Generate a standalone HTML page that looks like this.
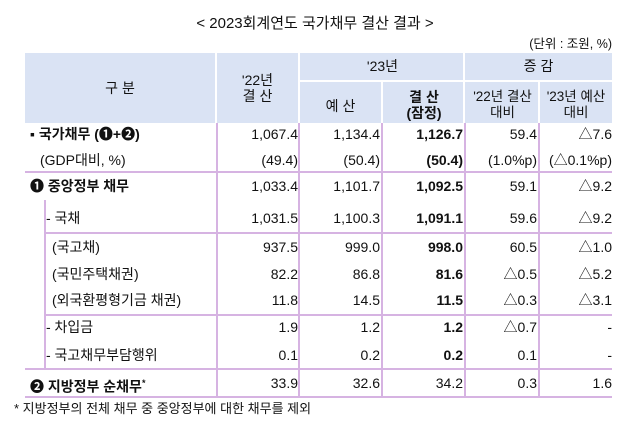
<!DOCTYPE html>
<html><head><meta charset="utf-8"><style>
body{margin:0;width:630px;height:425px;background:#fff;font-family:"Liberation Sans","Noto Sans CJK KR",sans-serif;color:#111;position:relative;overflow:hidden}
div{position:absolute}
.t{font-size:14px;white-space:nowrap;line-height:16px}
.h{background:#dae3f4}
.r{text-align:right}
.c{text-align:center}
.b{font-weight:bold}
.vl{width:2px;background:#d6b3e2}
.hl{height:2px;background:#d6b3e2}
</style></head><body>
<div class="t c" style="left:0;width:630px;top:16px;font-size:15px">&lt; 2023회계연도 국가채무 결산 결과 &gt;</div>
<div class="t" style="right:18px;top:36px;font-size:12.5px">(단위 : 조원, %)</div>

<div style="left:25px;top:53px;width:587px;height:70px">
 <div class="h" style="left:0;top:0;width:190px;height:70px"></div>
 <div class="h" style="left:192px;top:0;width:81px;height:70px"></div>
 <div class="h" style="left:275px;top:0;width:163px;height:27px"></div>
 <div class="h" style="left:275px;top:29px;width:81px;height:41px"></div>
 <div class="h" style="left:358px;top:29px;width:80px;height:41px"></div>
 <div class="h" style="left:440px;top:0;width:147px;height:27px"></div>
 <div class="h" style="left:440px;top:29px;width:73px;height:41px"></div>
 <div class="h" style="left:515px;top:29px;width:72px;height:41px"></div>
</div>
<div class="t c" style="left:25px;width:190px;top:80px">구 분</div>
<div class="t c" style="left:217px;width:81px;top:72px">'22년<br>결 산</div>
<div class="t c" style="left:300px;width:165px;top:58px">'23년</div>
<div class="t c" style="left:465px;width:147px;top:58px">증 감</div>
<div class="t c" style="left:300px;width:81px;top:98px">예 산</div>
<div class="t c b" style="left:383px;width:82px;top:89px">결 산<br>(잠정)</div>
<div class="t c" style="left:465px;width:75px;top:89px;font-size:13.5px">'22년 결산<br>대비</div>
<div class="t c" style="left:540px;width:72px;top:89px;font-size:13.5px">'23년 예산<br>대비</div>

<div class="vl" style="left:216px;top:123px;height:274px"></div>
<div class="vl" style="left:298px;top:123px;height:274px"></div>
<div class="vl" style="left:381px;top:123px;height:274px"></div>
<div class="vl" style="left:464px;top:123px;height:274px"></div>
<div class="vl" style="left:538px;top:123px;height:274px"></div>
<div class="vl" style="left:44px;top:200px;height:169px"></div>
<div class="hl" style="left:25px;top:171px;width:587px"></div>
<div class="hl" style="left:44px;top:232px;width:568px"></div>
<div class="hl" style="left:44px;top:314px;width:568px"></div>
<div class="hl" style="left:25px;top:368px;width:587px"></div>
<div class="hl" style="left:25px;top:396px;width:587px"></div>

<div id="rows"></div>
<div class="t" style="left:14px;top:401px;font-size:13px">* 지방정부의 전체 채무 중 중앙정부에 대한 채무를 제외</div>
<script>
const labels=["▪ 국가채무 (❶+❷)","(GDP대비, %)","❶ 중앙정부 채무","- 국채","(국고채)","(국민주택채권)","(외국환평형기금 채권)","- 차입금","- 국고채무부담행위","❷ 지방정부 순채무<sup style='font-size:9px'>*</sup>"];
const v22=["1,067.4","(49.4)","1,033.4","1,031.5","937.5","82.2","11.8","1.9","0.1","33.9"];
const vBudget=["1,134.4","(50.4)","1,101.7","1,100.3","999.0","86.8","14.5","1.2","0.2","32.6"];
const vSettle=["1,126.7","(50.4)","1,092.5","1,091.1","998.0","81.6","11.5","1.2","0.2","34.2"];
const dVs22=["59.4","(1.0%p)","59.1","59.6","60.5","△0.5","△0.3","△0.7","0.1","0.3"];
const dVs23=["△7.6","(△0.1%p)","△9.2","△9.2","△1.0","△5.2","△3.1","-","-","1.6"];
const rowY=[126,152,178,210,239,266,292,319,347,375];
const labelX=[30,40,30,46,52,52,52,46,46,30];
const boldLabel=[1,0,1,0,0,0,0,0,0,1];
const cols=[[v22,298,0],[vBudget,380,0],[vSettle,463,1],[dVs22,537,0],[dVs23,612,0]];
const host=document.getElementById('rows');
labels.forEach((l,i)=>{
 const d=document.createElement('div');
 
 
 d.className='t'+(boldLabel[i]?' b':'');
 d.style.left=labelX[i]+'px';d.style.top=rowY[i]+'px';
 d.innerHTML=l;host.appendChild(d);
 cols.forEach(([arr,right,bold])=>{
  const c=document.createElement('div');
  
  
  c.className='t r'+(bold&&i!==9?' b':'');
  c.style.left=(right-80)+'px';c.style.width='80px';c.style.top=rowY[i]+'px';
  c.textContent=arr[i];host.appendChild(c);
 });
});
</script>
</body></html>
